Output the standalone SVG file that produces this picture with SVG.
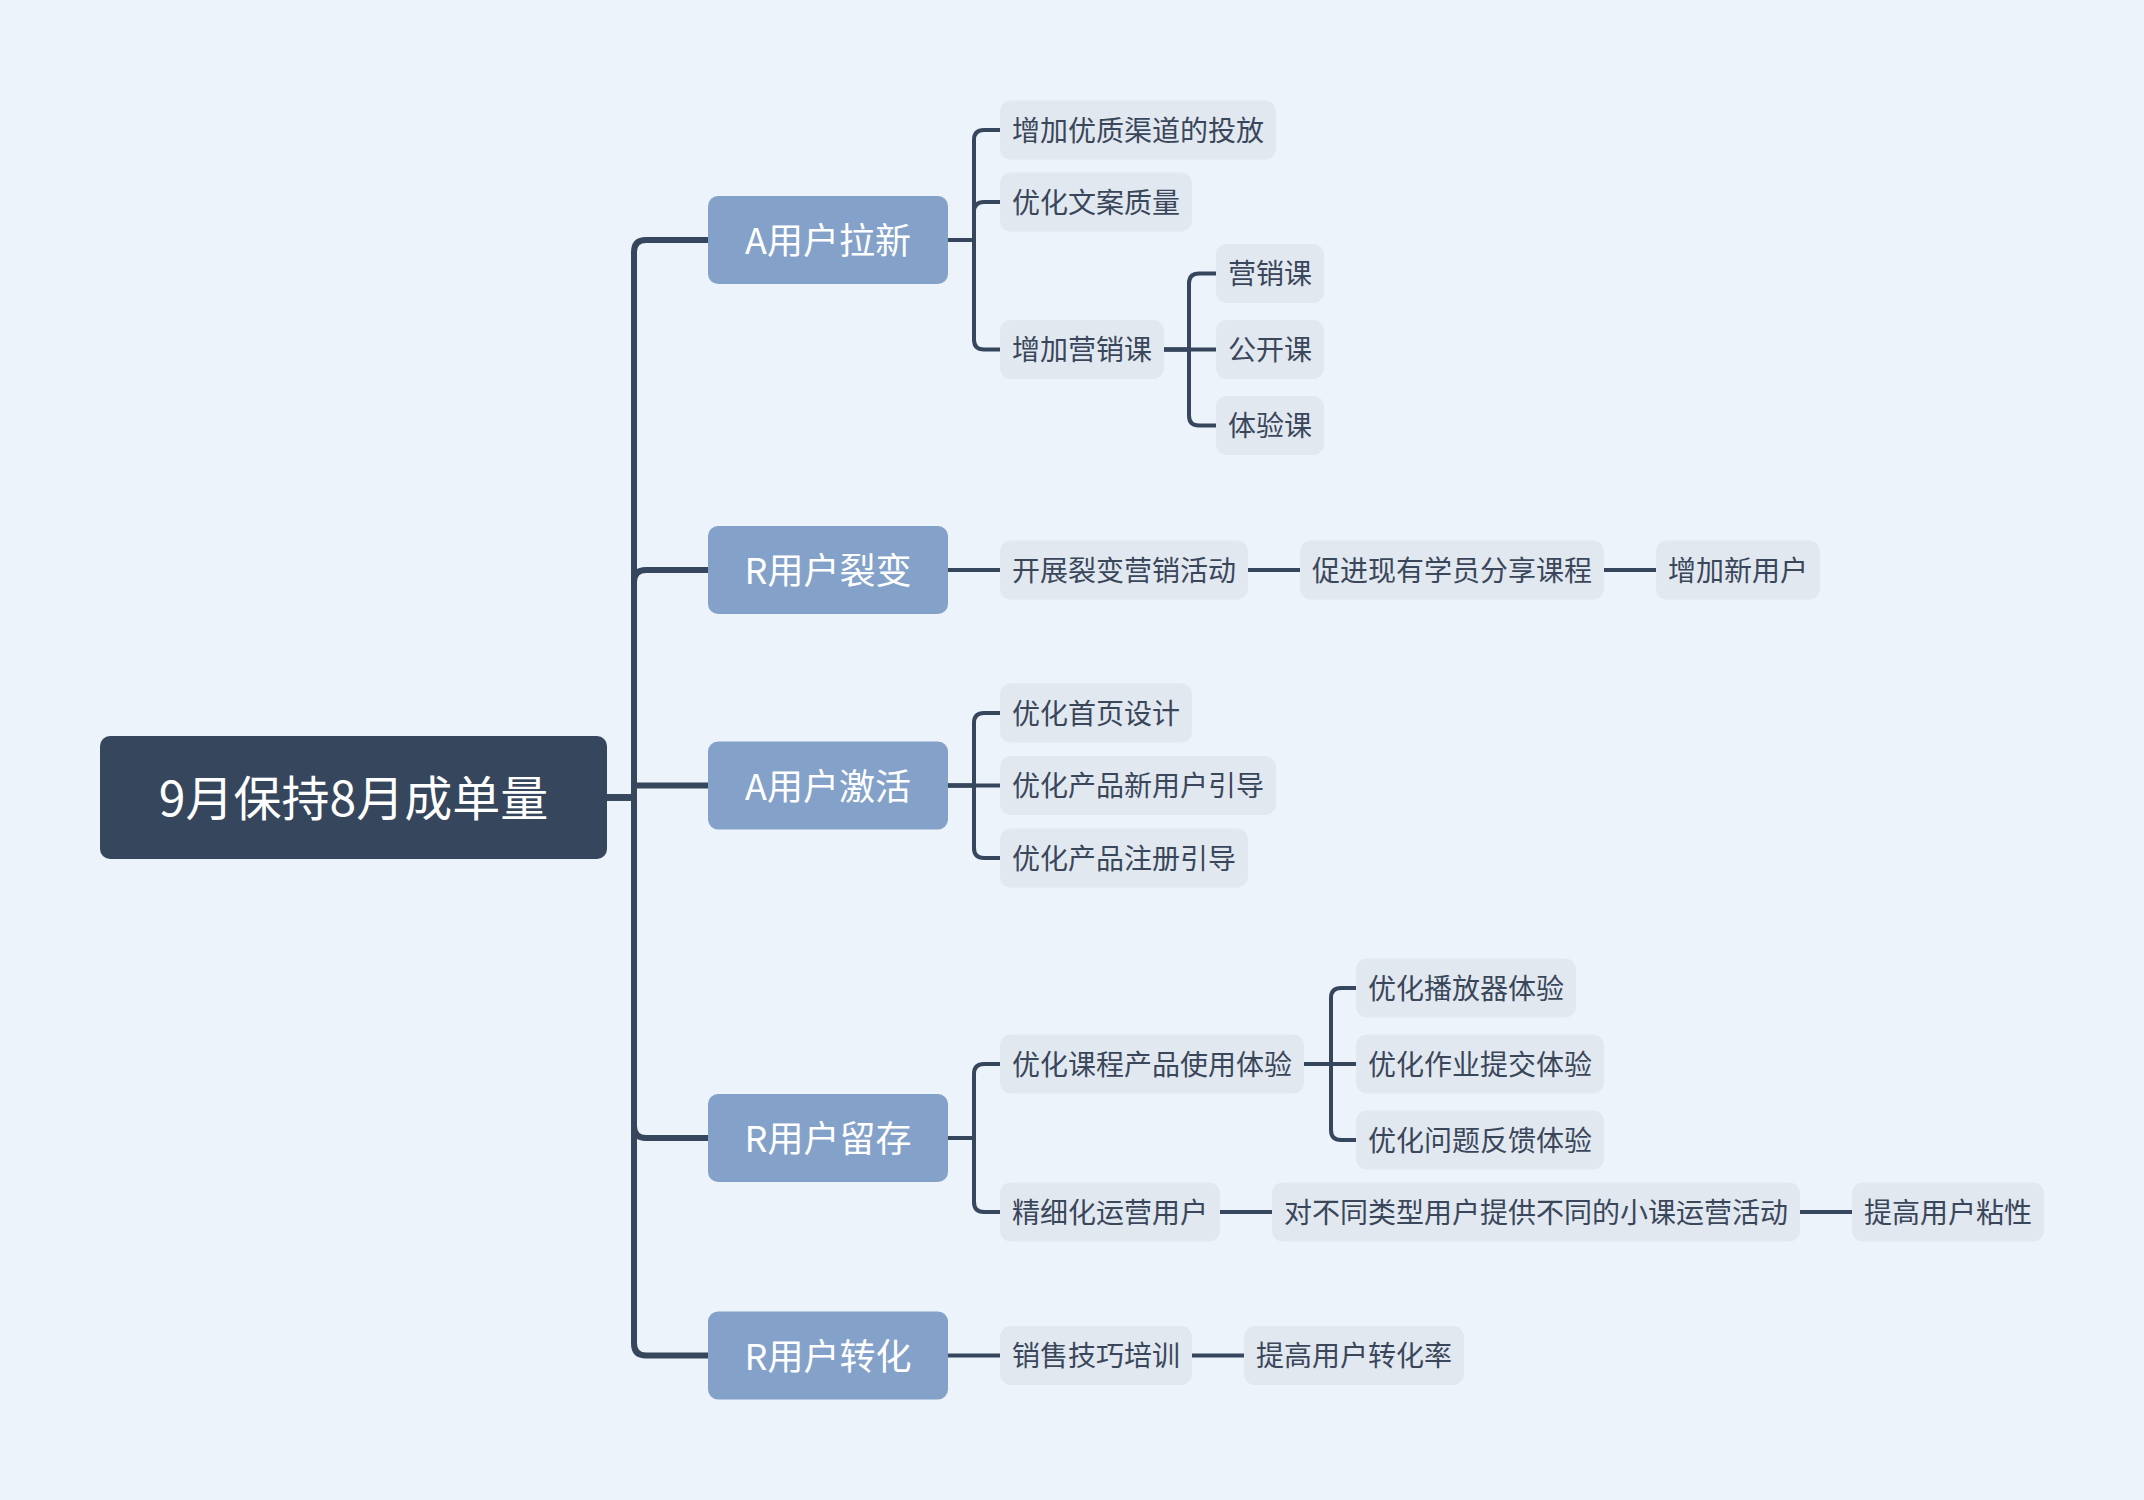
<svg xmlns="http://www.w3.org/2000/svg" width="2144" height="1500" viewBox="0 0 2144 1500">
<style>
.bg{fill:#EDF3FA}
.root rect{fill:#36465D}
.root text{fill:#FFFFFF;font-size:48px}
.l1 rect{fill:#84A2C9}
.l1 text{fill:#FFFFFF;font-size:36px}
.leaf rect{fill:#E2E8F0}
.leaf text{fill:#3A475A;font-size:28px}
text{font-family:"Noto Sans CJK SC","Noto Sans",sans-serif;dominant-baseline:central}
.c1{fill:none;stroke:#36465D;stroke-width:6;stroke-linejoin:round}
.c2{fill:none;stroke:#36465D;stroke-width:4;stroke-linejoin:round}
</style>
<rect class="bg" x="0" y="0" width="2144" height="1500"/>

<g id="connectors">
  <path class="c1" d="M607,797.5 H634 V252 Q634,240 646,240 H708"/>
  <path class="c1" d="M607,797.5 H634 V582 Q634,570 646,570 H708"/>
  <path class="c1" d="M607,797.5 H634 V785.5 H708"/>
  <path class="c1" d="M607,797.5 H634 V1126 Q634,1138 646,1138 H708"/>
  <path class="c1" d="M607,797.5 H634 V1343.5 Q634,1355.5 646,1355.5 H708"/>
  <path class="c2" d="M948,240 H974 V140 Q974,130 984,130 H1000"/>
  <path class="c2" d="M948,240 H974 V212 Q974,202 984,202 H1000"/>
  <path class="c2" d="M948,240 H974 V339.5 Q974,349.5 984,349.5 H1000"/>
  <path class="c2" d="M1164,349.5 H1189 V283.5 Q1189,273.5 1199,273.5 H1216"/>
  <path class="c2" d="M1164,349.5 H1216"/>
  <path class="c2" d="M1164,349.5 H1189 V415.5 Q1189,425.5 1199,425.5 H1216"/>
  <path class="c2" d="M948,570 H1000"/>
  <path class="c2" d="M1248,570 H1300"/>
  <path class="c2" d="M1604,570 H1656"/>
  <path class="c2" d="M948,785.5 H974 V723 Q974,713 984,713 H1000"/>
  <path class="c2" d="M948,785.5 H1000"/>
  <path class="c2" d="M948,785.5 H974 V848 Q974,858 984,858 H1000"/>
  <path class="c2" d="M948,1138 H974 V1074 Q974,1064 984,1064 H1000"/>
  <path class="c2" d="M948,1138 H974 V1202 Q974,1212 984,1212 H1000"/>
  <path class="c2" d="M1304,1064 H1331 V998 Q1331,988 1341,988 H1356"/>
  <path class="c2" d="M1304,1064 H1356"/>
  <path class="c2" d="M1304,1064 H1331 V1130 Q1331,1140 1341,1140 H1356"/>
  <path class="c2" d="M1220,1212 H1272"/>
  <path class="c2" d="M1800,1212 H1852"/>
  <path class="c2" d="M948,1355.5 H1000"/>
  <path class="c2" d="M1192,1355.5 H1244"/>
</g>

<g id="root" class="root"><rect x="100" y="736" width="507" height="123" rx="10"/><text x="353.5" y="795" text-anchor="middle">9月保持8月成单量</text></g>

<g id="n-a-new" class="l1"><rect x="708" y="196" width="240" height="88" rx="10"/><text x="828" y="238" text-anchor="middle">A用户拉新</text></g>
<g id="n-r-fission" class="l1"><rect x="708" y="526" width="240" height="88" rx="10"/><text x="828" y="568" text-anchor="middle">R用户裂变</text></g>
<g id="n-a-activate" class="l1"><rect x="708" y="741.5" width="240" height="88" rx="10"/><text x="828" y="783.5" text-anchor="middle">A用户激活</text></g>
<g id="n-r-retain" class="l1"><rect x="708" y="1094" width="240" height="88" rx="10"/><text x="828" y="1136" text-anchor="middle">R用户留存</text></g>
<g id="n-r-convert" class="l1"><rect x="708" y="1311.5" width="240" height="88" rx="10"/><text x="828" y="1353.5" text-anchor="middle">R用户转化</text></g>

<g id="n-channel" class="leaf"><rect x="1000" y="100.5" width="276" height="59" rx="11"/><text x="1012" y="128.5">增加优质渠道的投放</text></g>
<g id="n-copy" class="leaf"><rect x="1000" y="172.5" width="192" height="59" rx="11"/><text x="1012" y="200.5">优化文案质量</text></g>
<g id="n-addcourse" class="leaf"><rect x="1000" y="320" width="164" height="59" rx="11"/><text x="1012" y="348">增加营销课</text></g>
<g id="n-mkt" class="leaf"><rect x="1216" y="244" width="108" height="59" rx="11"/><text x="1228" y="272">营销课</text></g>
<g id="n-open" class="leaf"><rect x="1216" y="320" width="108" height="59" rx="11"/><text x="1228" y="348">公开课</text></g>
<g id="n-trial" class="leaf"><rect x="1216" y="396" width="108" height="59" rx="11"/><text x="1228" y="424">体验课</text></g>

<g id="n-fission-act" class="leaf"><rect x="1000" y="540.5" width="248" height="59" rx="11"/><text x="1012" y="568.5">开展裂变营销活动</text></g>
<g id="n-share" class="leaf"><rect x="1300" y="540.5" width="304" height="59" rx="11"/><text x="1312" y="568.5">促进现有学员分享课程</text></g>
<g id="n-newuser" class="leaf"><rect x="1656" y="540.5" width="164" height="59" rx="11"/><text x="1668" y="568.5">增加新用户</text></g>

<g id="n-home" class="leaf"><rect x="1000" y="683.5" width="192" height="59" rx="11"/><text x="1012" y="711.5">优化首页设计</text></g>
<g id="n-guide" class="leaf"><rect x="1000" y="756" width="276" height="59" rx="11"/><text x="1012" y="784">优化产品新用户引导</text></g>
<g id="n-register" class="leaf"><rect x="1000" y="828.5" width="248" height="59" rx="11"/><text x="1012" y="856.5">优化产品注册引导</text></g>

<g id="n-course-exp" class="leaf"><rect x="1000" y="1034.5" width="304" height="59" rx="11"/><text x="1012" y="1062.5">优化课程产品使用体验</text></g>
<g id="n-player" class="leaf"><rect x="1356" y="958.5" width="220" height="59" rx="11"/><text x="1368" y="986.5">优化播放器体验</text></g>
<g id="n-homework" class="leaf"><rect x="1356" y="1034.5" width="248" height="59" rx="11"/><text x="1368" y="1062.5">优化作业提交体验</text></g>
<g id="n-feedback" class="leaf"><rect x="1356" y="1110.5" width="248" height="59" rx="11"/><text x="1368" y="1138.5">优化问题反馈体验</text></g>
<g id="n-ops" class="leaf"><rect x="1000" y="1182.5" width="220" height="59" rx="11"/><text x="1012" y="1210.5">精细化运营用户</text></g>
<g id="n-diff" class="leaf"><rect x="1272" y="1182.5" width="528" height="59" rx="11"/><text x="1284" y="1210.5">对不同类型用户提供不同的小课运营活动</text></g>
<g id="n-sticky" class="leaf"><rect x="1852" y="1182.5" width="192" height="59" rx="11"/><text x="1864" y="1210.5">提高用户粘性</text></g>

<g id="n-sales" class="leaf"><rect x="1000" y="1326" width="192" height="59" rx="11"/><text x="1012" y="1354">销售技巧培训</text></g>
<g id="n-conv" class="leaf"><rect x="1244" y="1326" width="220" height="59" rx="11"/><text x="1256" y="1354">提高用户转化率</text></g>
</svg>
